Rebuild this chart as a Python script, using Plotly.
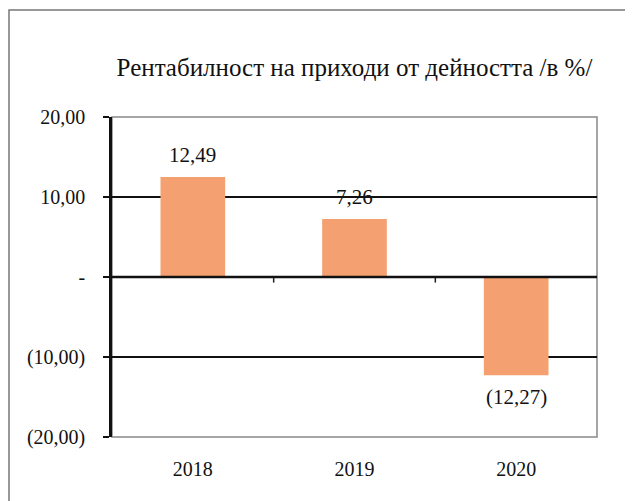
import plotly.graph_objects as go

categories = ["2018", "2019", "2020"]
values = [12.49, 7.26, -12.27]
tick_vals = [20, 10, 0, -10, -20]
tick_labels = ["20,00", "10,00", "-", "(10,00)", "(20,00)"]
title_text = "Рентабилност на приходи от дейността /в %/"


def fmt(v):
    s = f"{abs(v):.2f}".replace(".", ",")
    return f"({s})" if v < 0 else s


FONT = "Liberation Serif, Times New Roman, serif"
BAR = "#F5A071"

# the page body adds an 8px offset; the figure is sized to fill the rest
W, H = 625, 493
L, R, T, B = 104, 36, 109, 64
PH = H - T - B
PW = W - L - R

xpos = list(range(len(categories)))

fig = go.Figure()
fig.add_trace(go.Bar(
    x=xpos, y=values, width=0.4,
    marker=dict(color=BAR, line=dict(width=0)),
    hoverinfo="skip",
))

for xp, v in zip(xpos, values):
    fig.add_annotation(
        x=xp, y=v, text=fmt(v), showarrow=False,
        yshift=22 if v >= 0 else -22,
        font=dict(family=FONT, size=21, color="#111"),
    )

# x-axis tick marks at category boundaries on the zero line
for i in range(len(categories) - 1):
    fig.add_shape(type="line", xref="x", yref="y",
                  x0=i + 0.5, x1=i + 0.5, y0=0, y1=-0.7,
                  line=dict(color="#222", width=1.5))

# gray plot border
fig.add_shape(type="rect", xref="paper", yref="paper",
              x0=0, x1=1, y0=0, y1=1,
              line=dict(color="#888", width=1.5), layer="below")
# black gridlines
for t in [10, -10]:
    fig.add_shape(type="line", xref="paper", yref="y", x0=0, x1=1, y0=t, y1=t,
                  line=dict(color="#111", width=2), layer="below")
fig.add_shape(type="line", xref="paper", yref="y", x0=0, x1=1, y0=0, y1=0,
              line=dict(color="#111", width=2.5), layer="above")

# outer picture frame
fig.add_shape(type="rect", xref="paper", yref="paper",
              x0=(1 - L) / PW, x1=1.2, y0=-0.5, y1=(H - B - 2) / PH,
              line=dict(color="#777", width=1.5))

fig.update_layout(
    width=W, height=H,
    margin=dict(l=L, r=R, t=T, b=B, autoexpand=False),
    paper_bgcolor="white", plot_bgcolor="white",
    showlegend=False,
    title=dict(text=title_text, x=0.5, xref="paper", xanchor="center",
               y=1 - 59 / H, yanchor="middle",
               font=dict(family=FONT, size=25, color="#111")),
    xaxis=dict(range=[-0.5, len(categories) - 0.5], tickvals=xpos,
               ticktext=categories, showgrid=False, showline=False, ticks="",
               zeroline=False,
               tickfont=dict(family=FONT, size=20, color="#111"),
               ticklabelstandoff=18),
    yaxis=dict(range=[-20, 20], tickvals=tick_vals, ticktext=tick_labels,
               showgrid=False, zeroline=False,
               showline=True, linecolor="#111", linewidth=2.5,
               ticks="outside", ticklen=6, tickcolor="#111", tickwidth=2,
               ticklabelstandoff=14,
               tickfont=dict(family=FONT, size=20, color="#111")),
)

fig.write_html("out.html")
